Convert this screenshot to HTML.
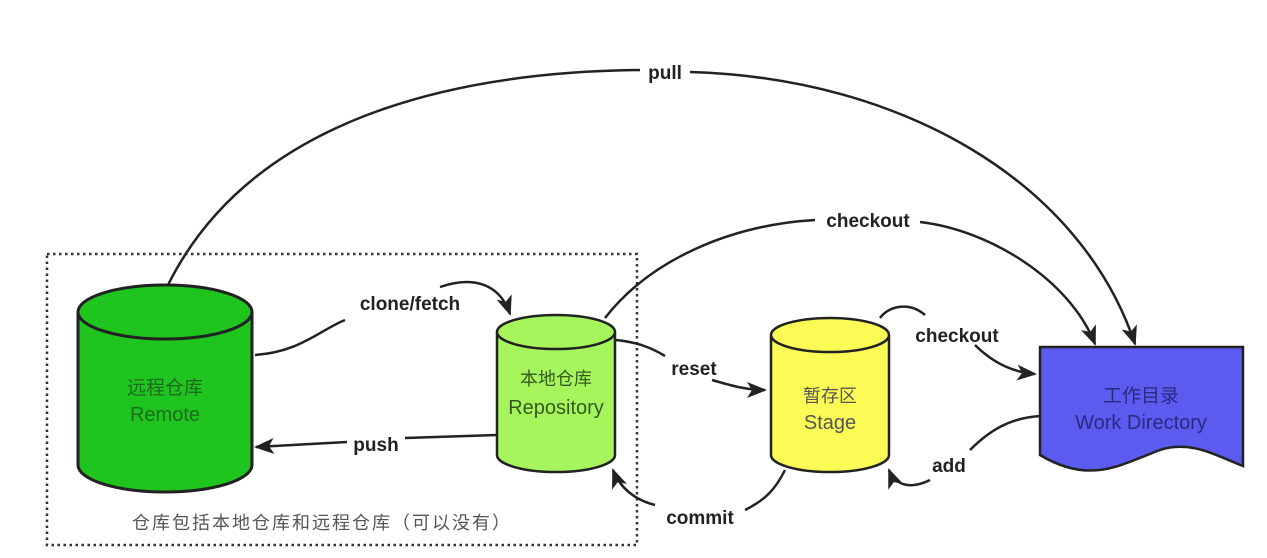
<!DOCTYPE html>
<html><head><meta charset="utf-8"><style>
html,body{margin:0;padding:0;background:#fff;width:1267px;height:558px;overflow:hidden}
svg text{font-family:"Liberation Sans","Noto Sans CJK SC",sans-serif}
.lb{font-weight:bold;font-size:19px;fill:#222}
</style></head><body>
<svg width="1267" height="558" viewBox="0 0 1267 558" xmlns="http://www.w3.org/2000/svg">
<defs>
<marker id="a" markerWidth="20" markerHeight="16" refX="18" refY="8" orient="auto" markerUnits="userSpaceOnUse">
<path d="M0,0 L20,8 L0,16 L5,8 Z" fill="#222"/></marker>
</defs>
<rect x="47" y="254" width="590" height="291" fill="none" stroke="#333" stroke-width="2.5" stroke-dasharray="2.5,3.5"/>
<g fill="none" stroke="#222" stroke-width="2.5">
<path d="M168,285 C250,120 450,72 640,70"/>
<path d="M690,72 C900,78 1080,180 1135,344" marker-end="url(#a)"/>
<path d="M605,318 C650,260 730,225 815,220"/>
<path d="M920,222 C990,230 1070,280 1095,344" marker-end="url(#a)"/>
<path d="M255,355 C300,352 320,330 345,320"/>
<path d="M440,287 C475,275 500,285 510,314" marker-end="url(#a)"/>
<path d="M615,340 C640,342 655,350 665,356"/>
<path d="M712,380 C730,385 745,390 765,390" marker-end="url(#a)"/>
<path d="M880,318 C890,305 910,302 925,315"/>
<path d="M975,345 C990,360 1010,372 1035,374" marker-end="url(#a)"/>
<path d="M497,435 L405,438"/>
<path d="M347,442 L256,447" marker-end="url(#a)"/>
<path d="M1040,416 C1010,418 990,430 970,450"/>
<path d="M930,480 C910,490 895,485 889,470" marker-end="url(#a)"/>
<path d="M785,470 C775,490 765,500 745,510"/>
<path d="M655,505 C635,500 620,488 613,470" marker-end="url(#a)"/>
</g>
<g stroke="#222" stroke-width="3">
<path d="M78,312 L78,465 A87,27 0 0 0 252,465 L252,312" fill="#1fc41f"/>
<ellipse cx="165" cy="312" rx="87" ry="27" fill="#1fc41f"/>
</g>
<text x="165" y="394" text-anchor="middle" font-size="19" fill="#1d6b1d">远程仓库</text>
<text x="165" y="421" text-anchor="middle" font-size="20" fill="#1d6b1d">Remote</text>
<g stroke="#222" stroke-width="2.5">
<path d="M497,332 L497,455 A59,17 0 0 0 615,455 L615,332" fill="#a6f55c"/>
<ellipse cx="556" cy="332" rx="59" ry="17" fill="#a6f55c"/>
</g>
<text x="556" y="385" text-anchor="middle" font-size="18" fill="#355a20">本地仓库</text>
<text x="556" y="414" text-anchor="middle" font-size="20" fill="#355a20">Repository</text>
<g stroke="#222" stroke-width="2.5">
<path d="M771,335 L771,455 A59,17 0 0 0 889,455 L889,335" fill="#fbfb55"/>
<ellipse cx="830" cy="335" rx="59" ry="17" fill="#fbfb55"/>
</g>
<text x="830" y="402" text-anchor="middle" font-size="18" fill="#555">暂存区</text>
<text x="830" y="429" text-anchor="middle" font-size="20" fill="#555">Stage</text>
<path d="M1040,347 L1243,347 L1243,466 C1215,455 1190,440 1160,450 C1120,465 1090,485 1040,455 Z" fill="#5b5bf0" stroke="#222" stroke-width="2.5"/>
<text x="1141" y="402" text-anchor="middle" font-size="19" fill="#2a2a80">工作目录</text>
<text x="1141" y="429" text-anchor="middle" font-size="20" fill="#2a2a80">Work Directory</text>
<text class="lb" x="665" y="79" text-anchor="middle">pull</text>
<text class="lb" x="868" y="227" text-anchor="middle">checkout</text>
<text class="lb" x="410" y="310" text-anchor="middle">clone/fetch</text>
<text class="lb" x="694" y="375" text-anchor="middle">reset</text>
<text class="lb" x="957" y="342" text-anchor="middle">checkout</text>
<text class="lb" x="376" y="451" text-anchor="middle">push</text>
<text class="lb" x="949" y="472" text-anchor="middle">add</text>
<text class="lb" x="700" y="524" text-anchor="middle">commit</text>
<text x="132" y="529" font-size="18" letter-spacing="2" fill="#555">仓库包括本地仓库和远程仓库（可以没有）</text>
</svg>
</body></html>
